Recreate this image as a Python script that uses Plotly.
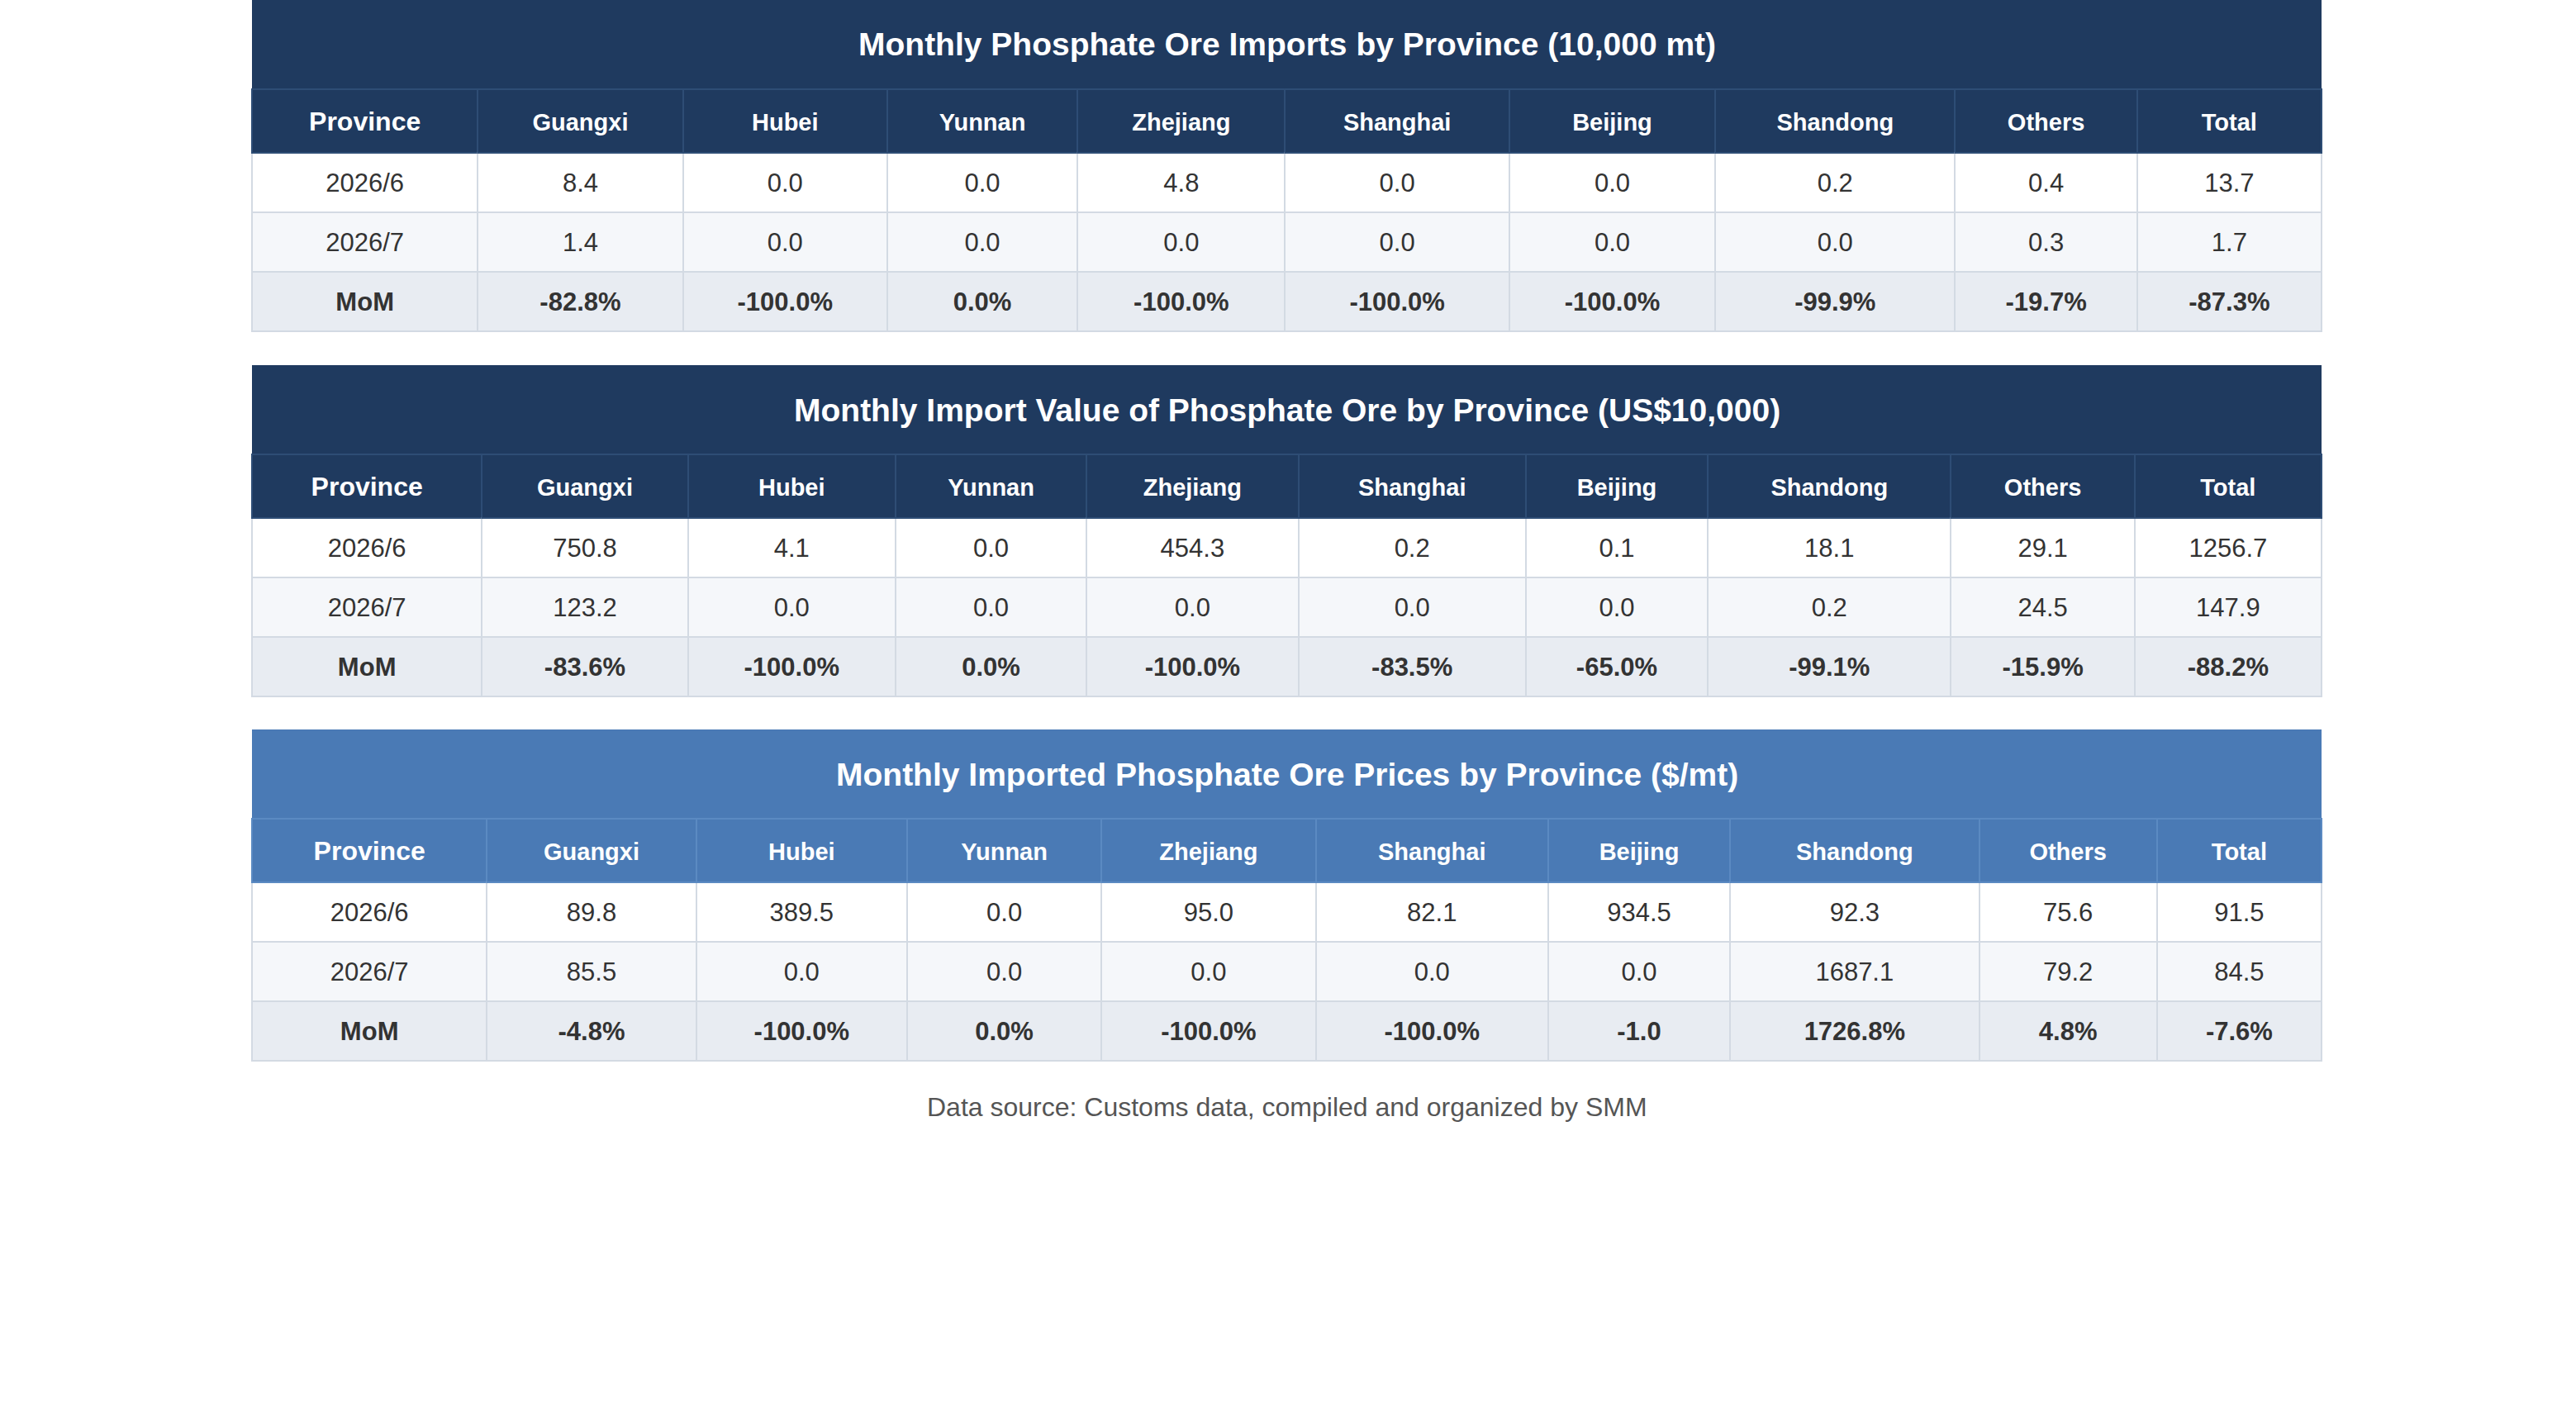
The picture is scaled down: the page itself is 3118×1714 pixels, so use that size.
import plotly.graph_objects as go

W, H = 3118, 1700

columns = ["Province", "Guangxi", "Hubei", "Yunnan", "Zhejiang", "Shanghai",
           "Beijing", "Shandong", "Others", "Total"]
row_labels = ["2026/6", "2026/7", "MoM"]

titles = [
    "Monthly Phosphate Ore Imports by Province (10,000 mt)",
    "Monthly Import Value of Phosphate Ore by Province (US$10,000)",
    "Monthly Imported Phosphate Ore Prices by Province ($/mt)",
]

imports_jun = [8.4, 0.0, 0.0, 4.8, 0.0, 0.0, 0.2, 0.4, 13.7]
imports_jul = [1.4, 0.0, 0.0, 0.0, 0.0, 0.0, 0.0, 0.3, 1.7]
imports_mom = ["-82.8%", "-100.0%", "0.0%", "-100.0%", "-100.0%", "-100.0%",
               "-99.9%", "-19.7%", "-87.3%"]

value_jun = [750.8, 4.1, 0.0, 454.3, 0.2, 0.1, 18.1, 29.1, 1256.7]
value_jul = [123.2, 0.0, 0.0, 0.0, 0.0, 0.0, 0.2, 24.5, 147.9]
value_mom = ["-83.6%", "-100.0%", "0.0%", "-100.0%", "-83.5%", "-65.0%",
             "-99.1%", "-15.9%", "-88.2%"]

price_jun = [89.8, 389.5, 0.0, 95.0, 82.1, 934.5, 92.3, 75.6, 91.5]
price_jul = [85.5, 0.0, 0.0, 0.0, 0.0, 0.0, 1687.1, 79.2, 84.5]
price_mom = ["-4.8%", "-100.0%", "0.0%", "-100.0%", "-100.0%", "-1.0",
             "1726.8%", "4.8%", "-7.6%"]

source_text = "Data source: Customs data, compiled and organized by SMM"

# layout, in page pixels
col_widths = [
    [273, 248, 247, 230, 251, 271, 249, 290, 220, 223],
    [278, 249, 251, 231, 256, 275, 220, 294, 222, 226],
    [284, 253, 255, 235, 259, 281, 220, 301, 215, 199],
]
band_colors = ["#1f3a5f", "#1f3a5f", "#4a7ab5"]
head_lines = ["#2e4d75", "#2e4d75", "#5b8ac2"]
table_tops = [0, 442, 883]
TITLE_H, HEAD_H, ROW_H = 108, 77, 72
X0, X1 = 305, 2810
FONT = "Liberation Sans, Arial, Helvetica, sans-serif"

# plotly tables top-align cell text; a blank first line in a small
# base font pushes the real text down towards the middle of the cell
CELL_BASE, HEAD_BASE = 18, 19


def px(x):
    return x / W


def py(y):
    return 1 - y / H


def centred(text, size, bold=False):
    if bold:
        text = "<b>" + text + "</b>"
    return "&nbsp;<br><span style='font-size:%dpx'>%s</span>" % (size, text)


datasets = [
    (imports_jun, imports_jul, imports_mom),
    (value_jun, value_jul, value_mom),
    (price_jun, price_jul, price_mom),
]

fig = go.Figure()
shapes = []
annotations = []

for i, (jun, jul, mom) in enumerate(datasets):
    top = table_tops[i]
    head_top = top + TITLE_H
    bottom = head_top + HEAD_H + 3 * ROW_H + 4

    cols = [[centred(row_labels[0], 31), centred(row_labels[1], 31),
             centred(row_labels[2], 31, True)]]
    for a, b, m in zip(jun, jul, mom):
        cols.append([centred(f"{a:.1f}", 31), centred(f"{b:.1f}", 31),
                     centred(m, 31, True)])

    head = [centred(columns[0], 32, True)]
    head += [centred(c, 29, True) for c in columns[1:]]

    fig.add_trace(go.Table(
        domain=dict(x=[px(X0), px(X1)], y=[py(bottom), py(head_top)]),
        columnwidth=col_widths[i],
        header=dict(
            values=head,
            fill_color=band_colors[i],
            line=dict(color=head_lines[i], width=2),
            font=dict(family=FONT, color="white", size=HEAD_BASE),
            align="center",
            height=HEAD_H,
        ),
        cells=dict(
            values=cols,
            fill_color=[["#ffffff", "#f5f7fa", "#e8ecf2"]] * len(columns),
            line=dict(color="#d3dae3", width=2),
            font=dict(family=FONT, color="#333333", size=CELL_BASE),
            align="center",
            height=ROW_H,
        ),
    ))

    shapes.append(dict(
        type="rect", xref="paper", yref="paper",
        x0=px(X0), x1=px(X1), y0=py(head_top), y1=py(top),
        fillcolor=band_colors[i], line=dict(width=0), layer="below",
    ))
    annotations.append(dict(
        text="<b>" + titles[i] + "</b>", xref="paper", yref="paper",
        x=px((X0 + X1) / 2), y=py(top + TITLE_H / 2),
        xanchor="center", yanchor="middle", showarrow=False,
        font=dict(family=FONT, size=39, color="white"),
    ))

annotations.append(dict(
    text=source_text, xref="paper", yref="paper",
    x=px((X0 + X1) / 2), y=py(1340),
    xanchor="center", yanchor="middle", showarrow=False,
    font=dict(family=FONT, size=32, color="#555555"),
))

fig.update_layout(
    width=W, height=H,
    margin=dict(l=0, r=0, t=0, b=0),
    paper_bgcolor="white",
    plot_bgcolor="white",
    shapes=shapes,
    annotations=annotations,
    showlegend=False,
)

fig.write_html("out.html", config={"displayModeBar": False},
               post_script="document.body.style.margin = '0';")
